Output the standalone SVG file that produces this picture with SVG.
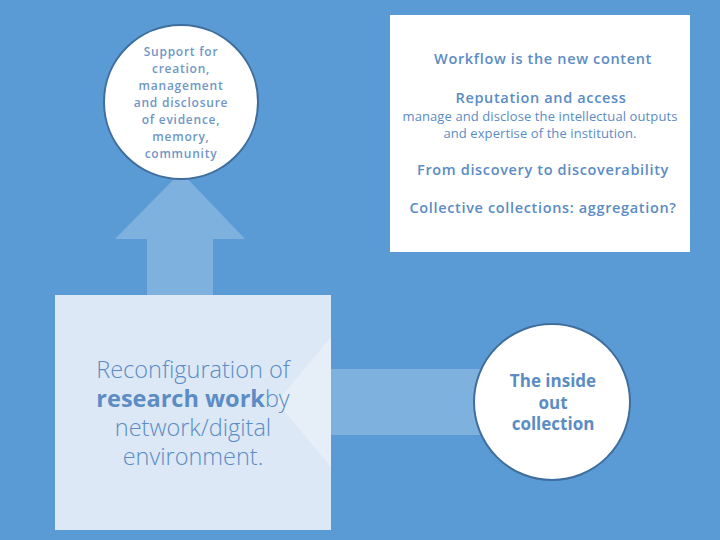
<svg xmlns="http://www.w3.org/2000/svg" width="720" height="540" viewBox="0 0 720 540">
<style>
.t{font-family:"Open Sans","Noto Sans","Liberation Sans",sans-serif;fill:#5b8cc4;text-anchor:middle}
.c1{font-size:12px;font-weight:600;letter-spacing:0.75px;fill:#6f97c6}
.h{font-size:14.5px;font-weight:600;letter-spacing:0.65px}
.s{font-size:13px;letter-spacing:0.1px}
.big{font-size:23.5px;font-weight:300;fill:#5b8cc4}
.c2{font-size:17px;font-weight:700;fill:#5b8cc4}
.circ{fill:#ffffff;stroke:#3f6e9c;stroke-width:2}
.arrow{fill:#ffffff;fill-opacity:0.22}
</style>
<rect x="0" y="0" width="720" height="540" fill="#5b9bd5"/>
<g id="connectors">
<polygon class="arrow" points="147,300 147,239 115,239 181,172 245,239 213,239 213,300"/>
<rect class="arrow" x="331" y="369" width="160" height="66"/>
</g>
<g id="box">
<rect x="390" y="15" width="300" height="237" fill="#ffffff"/>
<text class="t h" x="543" y="64">Workflow is the new content</text>
<text class="t h" x="541" y="103">Reputation and access</text>
<text class="t s" x="540" y="121">manage and disclose the intellectual outputs</text>
<text class="t s" x="540" y="138">and expertise of the institution.</text>
<text class="t h" x="543" y="175">From discovery to discoverability</text>
<text class="t h" x="543" y="213">Collective collections: aggregation?</text>
</g>
<g id="support">
<circle class="circ" cx="181" cy="102" r="77"/>
<text class="t c1" x="181" y="56">Support for</text>
<text class="t c1" x="181" y="73">creation,</text>
<text class="t c1" x="181" y="90">management</text>
<text class="t c1" x="181" y="107">and disclosure</text>
<text class="t c1" x="181" y="124">of evidence,</text>
<text class="t c1" x="181" y="141">memory,</text>
<text class="t c1" x="181" y="158">community</text>
</g>
<g id="research">
<rect x="55" y="295" width="276" height="235" fill="#dce8f5"/>
<polygon points="331,337 277,402 331,467" fill="#ffffff" fill-opacity="0.3"/>
<text class="t big" x="193" y="378">Reconfiguration of</text>
<text class="t big" x="193" y="407"><tspan font-weight="700">research work</tspan>by</text>
<text class="t big" x="193" y="436">network/digital</text>
<text class="t big" x="193" y="465">environment.</text>
</g>
<g id="insideout">
<circle class="circ" cx="552" cy="402" r="78"/>
<text class="t c2" x="553" y="387">The inside</text>
<text class="t c2" x="553" y="409">out</text>
<text class="t c2" x="553" y="430">collection</text>
</g>
</svg>
